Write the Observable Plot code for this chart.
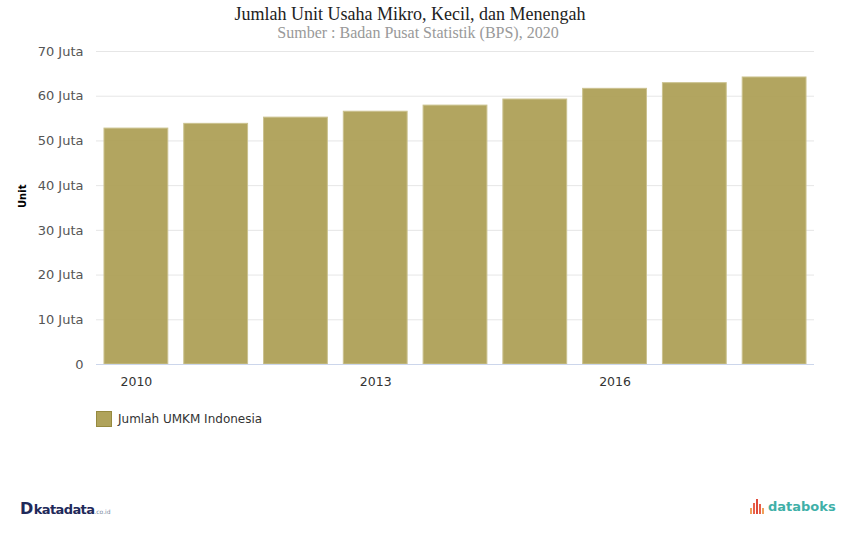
<!DOCTYPE html>
<html>
<head>
<meta charset="utf-8">
<script src="https://cdn.jsdelivr.net/npm/d3@7"></script>
<script src="https://cdn.jsdelivr.net/npm/@observablehq/plot@0.6"></script>
<style>
  body { margin: 0; background: #fff; width: 850px; height: 560px; position: relative; overflow: hidden; }
  #title { position: absolute; top: 4px; left: -15px; width: 850px; text-align: center; font-family: "Liberation Serif", "Times New Roman", serif; font-size: 18px; color: #222; }
  #subtitle { position: absolute; top: 24px; left: -7px; width: 850px; text-align: center; font-family: "Liberation Serif", "Times New Roman", serif; font-size: 16px; color: #999; }
  #chart { position: absolute; top: 42px; left: 0; }
  #legend { position: absolute; top: 411px; left: 96px; font-family: "DejaVu Sans", Verdana, sans-serif; font-size: 12px; color: #333; display: flex; align-items: center; }
  #legend .sw { width: 14px; height: 14px; background: #b0a35b; border: 1px solid #968a3f; margin-right: 6px; }
  #kata { position: absolute; top: 499px; left: 20px; font-family: "DejaVu Sans", sans-serif; color: #1f2a5a; font-weight: bold; font-size: 13px; letter-spacing: -0.6px; }
  #kata .d { font-size: 16px; font-weight: bold; margin-right: 1px; }
  #kata .co { font-size: 6px; color: #7b8aa0; font-weight: normal; letter-spacing: 0; }
  #databoks { position: absolute; top: 499px; left: 750px; font-family: "DejaVu Sans", sans-serif; color: #3fb0a8; font-weight: bold; font-size: 13px; display: flex; align-items: flex-end; }
  #databoks .ic { display: flex; align-items: flex-end; margin-right: 3px; height: 15px; }
  #databoks .ic span { display: inline-block; width: 2px; margin-right: 1px; }
</style>
</head>
<body>
<div id="title">Jumlah Unit Usaha Mikro, Kecil, dan Menengah</div>
<div id="subtitle">Sumber : Badan Pusat Statistik (BPS), 2020</div>
<div id="chart"></div>
<div id="legend"><div class="sw"></div>Jumlah UMKM Indonesia</div>
<div id="kata"><span class="d">D</span>katadata<span class="co">.co.id</span></div>
<div id="databoks"><div class="ic"><span style="height:6px;background:#f0a05a"></span><span style="height:11px;background:#e8604a"></span><span style="height:15px;background:#e04a3a"></span><span style="height:10px;background:#e8604a"></span><span style="height:6px;background:#f0a05a"></span></div>databoks</div>
<script>
const years = [2010, 2011, 2012, 2013, 2014, 2015, 2016, 2017, 2018];
const values = [52.76, 53.82, 55.21, 56.53, 57.90, 59.26, 61.65, 62.92, 64.19]; // juta unit
const xTickLabels = [2010, 2013, 2016];
const yTicks = [0, 10, 20, 30, 40, 50, 60, 70];
const seriesName = "Jumlah UMKM Indonesia";

const data = years.map((y, i) => ({ year: y, value: values[i] }));

const chart = Plot.plot({
  width: 850,
  height: 360,
  marginTop: 9,
  marginBottom: 38,
  marginLeft: 96,
  marginRight: 36,
  style: { fontFamily: "'DejaVu Sans', Verdana, sans-serif", fontSize: "12px", color: "#555", background: "transparent" },
  x: { type: "band", domain: years, paddingInner: 0.2, paddingOuter: 0.1, round: false },
  y: { domain: [0, 70] },
  marks: [
    Plot.gridY(yTicks, { stroke: "#e6e6e6", strokeOpacity: 1 }),
    Plot.barY(data, { x: "year", y: "value", fill: "#ab9d52", fillOpacity: 0.92, stroke: "#cbc28f", strokeWidth: 1 }),
    Plot.ruleY([0], { stroke: "#ccd6eb" }),
    Plot.axisY({ ticks: yTicks, tickSize: 0, tickPadding: 13, tickFormat: d => d === 0 ? "0" : d + " Juta", label: null, fill: "#555", fontSize: 13 }),
    Plot.axisX({ ticks: xTickLabels, tickSize: 0, tickPadding: 13, tickFormat: d => String(d), label: null, fill: "#333", fontSize: 12.5 }),
    Plot.text(["Unit"], { frameAnchor: "left", dx: -74, rotate: -90, text: d => d, fontWeight: "bold", fontSize: 10, fill: "#000" })
  ]
});
document.getElementById("chart").appendChild(chart);
</script>
</body>
</html>
